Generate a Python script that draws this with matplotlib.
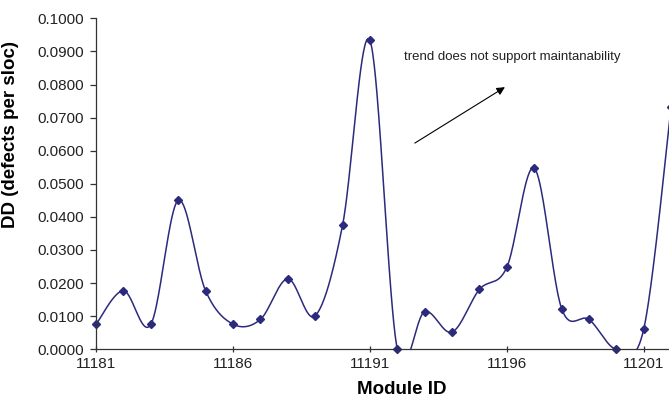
import numpy as np
import matplotlib.pyplot as plt
from matplotlib.ticker import FormatStrFormatter, MultipleLocator

plt.rcParams['font.family'] = ['Liberation Sans', 'DejaVu Sans']

# 模块编号与缺陷密度
module_ids = list(range(11181, 11203))
dd_values = [0.0075, 0.0177, 0.0075, 0.0450, 0.0177, 0.0076, 0.0090, 0.0213,
             0.0101, 0.0374, 0.0933, 0.0000, 0.0114, 0.0052, 0.0181, 0.0248,
             0.0547, 0.0123, 0.0090, 0.0000, 0.0062, 0.0733]
x_ticks = [11181, 11186, 11191, 11196, 11201]
note_text = "trend does not support maintanability"

line_color = '#2B2A7C'


# Excel风格的平滑曲线 (Bezier, 切线 = (P[i+1]-P[i-1])/6)
def smooth_curve(xs, ys, steps=40):
    p = np.column_stack([xs, ys]).astype(float)
    n = len(p)
    t = np.linspace(0, 1, steps)[:, None]
    pts = []
    for i in range(n - 1):
        prev = max(i - 1, 0)
        nxt = min(i + 2, n - 1)
        c1 = p[i] + (p[i + 1] - p[prev]) / 6
        c2 = p[i + 1] - (p[nxt] - p[i]) / 6
        seg = ((1 - t) ** 3 * p[i] + 3 * (1 - t) ** 2 * t * c1
               + 3 * (1 - t) * t ** 2 * c2 + t ** 3 * p[i + 1])
        pts.append(seg if i == 0 else seg[1:])
    pts = np.vstack(pts)
    return pts[:, 0], pts[:, 1]


fig = plt.figure(figsize=(6.69, 3.98), dpi=100)
ax = fig.add_axes([0.1435, 0.1224, 0.8565, 0.8316])

sx, sy = smooth_curve(module_ids, dd_values)
ax.plot(sx, sy, color=line_color, lw=1.1)
ax.plot(module_ids, dd_values, linestyle='none', marker='D', ms=4.2,
        color=line_color, clip_on=False)

ax.set_xlim(11181, 11201.92)
ax.set_ylim(0, 0.1)
ax.set_xticks(x_ticks)
ax.set_xticklabels([str(v) for v in x_ticks])
ax.yaxis.set_major_locator(MultipleLocator(0.01))
ax.yaxis.set_major_formatter(FormatStrFormatter('%.4f'))

for side in ['top', 'right']:
    ax.spines[side].set_visible(False)
for side in ['left', 'bottom']:
    ax.spines[side].set_color('#333333')
    ax.spines[side].set_linewidth(0.9)

ax.tick_params(axis='y', direction='out', length=4.5, width=0.9, pad=4.5,
               labelsize=11, colors='#333333', labelcolor='#222222')
ax.tick_params(axis='x', direction='inout', length=5, width=0.9, pad=3,
               labelsize=11, colors='#333333', labelcolor='#222222')

ax.set_ylabel("DD (defects per sloc)", fontsize=13.5, fontweight='bold')
ax.yaxis.set_label_coords(-0.135, 0.65)
ax.set_xlabel("Module ID", fontsize=13.5, fontweight='bold')
ax.xaxis.set_label_coords(0.534, -0.095)

# 注释与箭头
ax.annotate('', xy=(11195.93, 0.0792), xytext=(11192.64, 0.0623),
            arrowprops=dict(arrowstyle='-|>', color='black', lw=0.8,
                            mutation_scale=12, shrinkA=0, shrinkB=0))
ax.text(11192.24, 0.0883, note_text, fontsize=9.5, color='#222222',
        ha='left', va='center')

fig.savefig('out.png', dpi=100)
